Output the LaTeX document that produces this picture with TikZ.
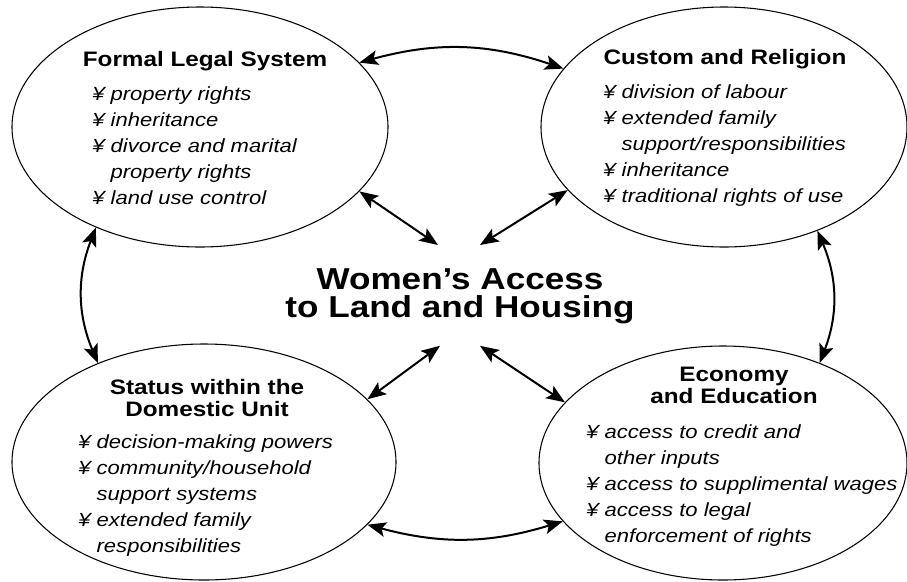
\documentclass[tikz,border=0pt]{standalone}
\usepackage{fontspec}
\setmainfont{Liberation Sans}[FakeStretch=1.16]
\usetikzlibrary{arrows.meta,calc,shapes.geometric}

\begin{document}
\begin{tikzpicture}[x=0.75pt,y=-0.75pt,
  oval/.style={ellipse,draw,line width=0.8pt,inner sep=0pt},
  head/.style={font=\bfseries\fontsize{15.7}{16.5}\selectfont,align=center,inner sep=0pt},
  items/.style={font=\itshape\fontsize{14.25}{19.5}\selectfont,align=left,inner sep=0pt,anchor=north west},
  link/.style={line width=1.5pt,{Stealth[length=14pt,width=11pt,inset=3pt]}-{Stealth[length=14pt,width=11pt,inset=3pt]}}]
  \useasboundingbox (0,0) rectangle (907,582);

  \node[oval,minimum width=282pt,minimum height=180pt] (legal) at (200,127) {};
  \node[oval,minimum width=274.5pt,minimum height=180pt] (custom) at (724,127) {};
  \node[oval,minimum width=288pt,minimum height=177pt] (status) at (204,462) {};
  \node[oval,minimum width=276pt,minimum height=175.5pt] (economy) at (723,463) {};

  \node[head,anchor=base] (legalhead) at (205,66) {Formal Legal System};
  \node[items] (legalitems) at (92,86) {¥ property rights\\ ¥ inheritance\\ ¥ divorce and marital\\ \phantom{¥ }property rights\\ ¥ land use control};

  \node[head,anchor=base] (customhead) at (725,64) {Custom and Religion};
  \node[items] (customitems) at (603,84) {¥ division of labour\\ ¥ extended family\\ \phantom{¥ }support/responsibilities\\ ¥ inheritance\\ ¥ traditional rights of use};

  \node[head,anchor=north] (statushead) at (207,379) {Status within the\\Domestic Unit};
  \node[items] (statusitems) at (78,434) {¥ decision-making powers\\ ¥ community/household\\ \phantom{¥ }support systems\\ ¥ extended family\\ \phantom{¥ }responsibilities};

  \node[head,anchor=north] (economyhead) at (734,367) {Economy\\and Education};
  \node[items] (economyitems) at (586,424) {¥ access to credit and\\ \phantom{¥ }other inputs\\ ¥ access to supplimental wages\\ ¥ access to legal\\ \phantom{¥ }enforcement of rights};

  \node[font=\bfseries\fontsize{22.7}{21}\selectfont,align=center,inner sep=0pt,anchor=north] (hub) at (460,268) {Women’s Access\\to Land and Housing};
  \coordinate (hubnw) at ($(hub.north)+(-22,-23)$);
  \coordinate (hubne) at ($(hub.north)+(20,-23)$);
  \coordinate (hubsw) at ($(hub.south)+(-20,22)$);
  \coordinate (hubse) at ($(hub.south)+(20,22)$);

  \draw[link] (legal.22) to[bend left=17] (custom.160);
  \draw[link] (custom.-48) to[bend left=22] (economy.46);
  \draw[link] (status.-21) to[bend right=16] (economy.200);
  \draw[link] (legal.224) to[bend right=22] (status.137);

  \draw[link] (legal.-22) -- (hubnw);
  \draw[link] (custom.202) -- (hubne);
  \draw[link] (status.21) -- (hubsw);
  \draw[link] (economy.159) -- (hubse);
\end{tikzpicture}
\end{document}
